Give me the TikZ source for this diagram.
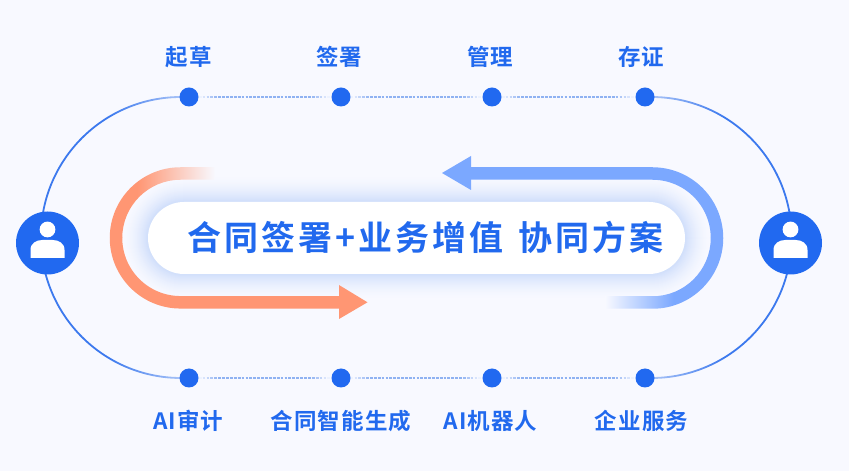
\documentclass[tikz,border=0pt]{standalone}
\usepackage{fontspec}
\usetikzlibrary{calc}
\setmainfont{Liberation Sans}
\newfontfamily\cjklab[BoldFont={Noto Sans CJK SC Bold},BoldFeatures={LetterSpace=4.5}]{Noto Sans CJK SC}
\newfontfamily\cjktitle[BoldFont={Noto Sans CJK SC Bold},BoldFeatures={LetterSpace=9}]{Noto Sans CJK SC}
\definecolor{bgc}{HTML}{F8F9FF}
\definecolor{mainblue}{HTML}{2169F0}
\definecolor{textblue}{HTML}{2169EE}
\definecolor{linestrong}{HTML}{3C79EE}
\definecolor{linelight}{HTML}{B4CBF8}
\definecolor{linkc}{HTML}{8FB2F2}
\definecolor{glowc}{HTML}{CFDEFB}
\definecolor{orangec}{HTML}{FF9673}
\definecolor{bandblue}{HTML}{7BA8FF}
\pgfdeclarehorizontalshading{orfade}{100bp}{color(0bp)=(orangec); color(38bp)=(orangec); color(75bp)=(bgc); color(100bp)=(bgc)}
\pgfdeclarehorizontalshading{blfade}{100bp}{color(0bp)=(bgc); color(25bp)=(bgc); color(54bp)=(bandblue); color(100bp)=(bandblue)}
\pgfdeclarehorizontalshading{ringL}{100bp}{color(0bp)=(linestrong); color(48bp)=(linestrong); color(75bp)=(linelight); color(100bp)=(linelight)}
\pgfdeclarehorizontalshading{ringR}{100bp}{color(0bp)=(linelight); color(25bp)=(linelight); color(52bp)=(linestrong); color(100bp)=(linestrong)}
\tikzset{
  dot/.style={circle,fill=mainblue,minimum size=19pt,inner sep=0pt},
  avatar/.style={circle,fill=mainblue,minimum size=63pt,inner sep=0pt},
  lab/.style={font=\cjklab\bfseries\fontsize{22.5}{26}\selectfont,text=textblue,inner sep=0pt,anchor=center},
  titletext/.style={font=\cjktitle\bfseries\fontsize{34}{40}\selectfont,text=textblue,inner sep=0pt,anchor=center},
  pill/.style={fill=white,rounded corners=36pt,minimum width=537pt,minimum height=72pt,inner sep=0pt}
}
\newcommand{\dashlink}[2]{%
  \foreach \i in {0,...,33}{%
    \pgfmathsetmacro\pp{100*min(1,2.2*sin(180*(\i+.5)/34))}%
    \draw[draw=linkc!\pp!bgc,line width=1.4pt] ($(#1.east)!{\i/34}!(#2.west)$) -- ($(#1.east)!{(\i+.72)/34}!(#2.west)$);
  }}
\newcommand{\person}[1]{%
  \fill[white] ($(#1)+(0,13.5)$) circle (7.9pt);
  \fill[white] ($(#1)+(-17,-15)$) -- ($(#1)+(-17,-7)$) .. controls ($(#1)+(-17,0)$) and ($(#1)+(-11,3)$) .. ($(#1)+(-5,3)$) -- ($(#1)+(5,3)$) .. controls ($(#1)+(11,3)$) and ($(#1)+(17,0)$) .. ($(#1)+(17,-7)$) -- ($(#1)+(17,-15)$) -- cycle;
}
\begin{document}
\begin{tikzpicture}[x=1pt,y=1pt]
\useasboundingbox (0,0) rectangle (849,471);
\fill[bgc] (0,0) rectangle (849,471);

% dots (positions only; repainted over the arcs below)
\coordinate (c1) at (189,374);
\coordinate (c4) at (645,374);
\coordinate (c5) at (189,93);
\coordinate (c8) at (645,93);

% arcs
\shade[shading=ringL] ($(c1)+(-8,.9)$) arc[start angle=90,end angle=180,radius=141] -- ++(1.8,0) arc[start angle=180,end angle=90,radius=139.2] -- ($(c1)+(0,-.9)$) -- ($(c1)+(0,.9)$) -- cycle;
\shade[shading=ringL] ($(c5)+(-8,-.9)$) arc[start angle=-90,end angle=-180,radius=141] -- ++(1.8,0) arc[start angle=-180,end angle=-90,radius=139.2] -- ($(c5)+(0,.9)$) -- ($(c5)+(0,-.9)$) -- cycle;
\shade[shading=ringR] ($(c4)+(6.5,.9)$) arc[start angle=90,end angle=0,radius=141] -- ++(-1.8,0) arc[start angle=0,end angle=90,radius=139.2] -- ($(c4)+(0,-.9)$) -- ($(c4)+(0,.9)$) -- cycle;
\shade[shading=ringR] ($(c8)+(6.5,-.9)$) arc[start angle=-90,end angle=0,radius=141] -- ++(-1.8,0) arc[start angle=0,end angle=-90,radius=139.2] -- ($(c8)+(0,.9)$) -- ($(c8)+(0,-.9)$) -- cycle;

\node[dot] (d1) at (c1) {};
\node[dot] (d2) at (341,374) {};
\node[dot] (d3) at (492,374) {};
\node[dot] (d4) at (c4) {};
\node[dot] (d5) at (c5) {};
\node[dot] (d6) at (341,93) {};
\node[dot] (d7) at (492,93) {};
\node[dot] (d8) at (c8) {};

% dashed links
\dashlink{d1}{d2}
\dashlink{d2}{d3}
\dashlink{d3}{d4}
\dashlink{d5}{d6}
\dashlink{d6}{d7}
\dashlink{d7}{d8}

% avatars
\node[avatar] (av1) at (47.5,228) {};
\node[avatar] (av2) at (790.5,228) {};
\person{av1}
\person{av2}

% glow
\foreach \g in {26,25,...,1}{
  \pgfmathsetmacro\pp{100*(1-\g/27)^1.8}
  \pgfmathsetmacro\rr{36+\g}
  \fill[glowc!\pp!bgc,rounded corners=\rr pt] (148-\g,197-\g) rectangle (685+\g,269+\g);
}

% orange band
\shade[shading=orfade] (109.75,233) arc[start angle=180,end angle=90,radius=70.75] -- (215,303.75) -- (215,291.25) -- (180.5,291.25) arc[start angle=90,end angle=180,radius=58.25] -- cycle;
\draw[orangec,line width=12.5pt] (116,233.2) arc[start angle=180,end angle=270,radius=64.5] -- (340,168.5);
\fill[orangec] (339,186) -- (367.5,168.7) -- (339,152) -- cycle;

% blue band
\draw[bandblue,line width=12.5pt] (468,297.5) -- (652.5,297.5) arc[start angle=90,end angle=-0.2,radius=64.5];
\fill[bandblue] (471,315) -- (442,298) -- (471,281) -- cycle;
\shade[shading=blfade] (723.25,233) arc[start angle=0,end angle=-90,radius=70.75] -- (605,162.25) -- (605,174.75) -- (652.5,174.75) arc[start angle=-90,end angle=0,radius=58.25] -- cycle;

% central pill
\node[pill] (pillbox) at (416.5,233) {};
\node[titletext] (title) at (425.5,233.5) {合同签署+业务增值\hspace{4pt} 协同方案};

% labels
\node[lab] (t1) at (189,414) {起草};
\node[lab] (t2) at (339.5,414) {签署};
\node[lab] (t3) at (490.5,414) {管理};
\node[lab] (t4) at (641,414) {存证};
\node[lab] (b1) at (188.5,50) {AI审计};
\node[lab] (b2) at (341,50) {合同智能生成};
\node[lab] (b3) at (490.5,50) {AI机器人};
\node[lab] (b4) at (641.5,50) {企业服务};
\end{tikzpicture}
\end{document}
